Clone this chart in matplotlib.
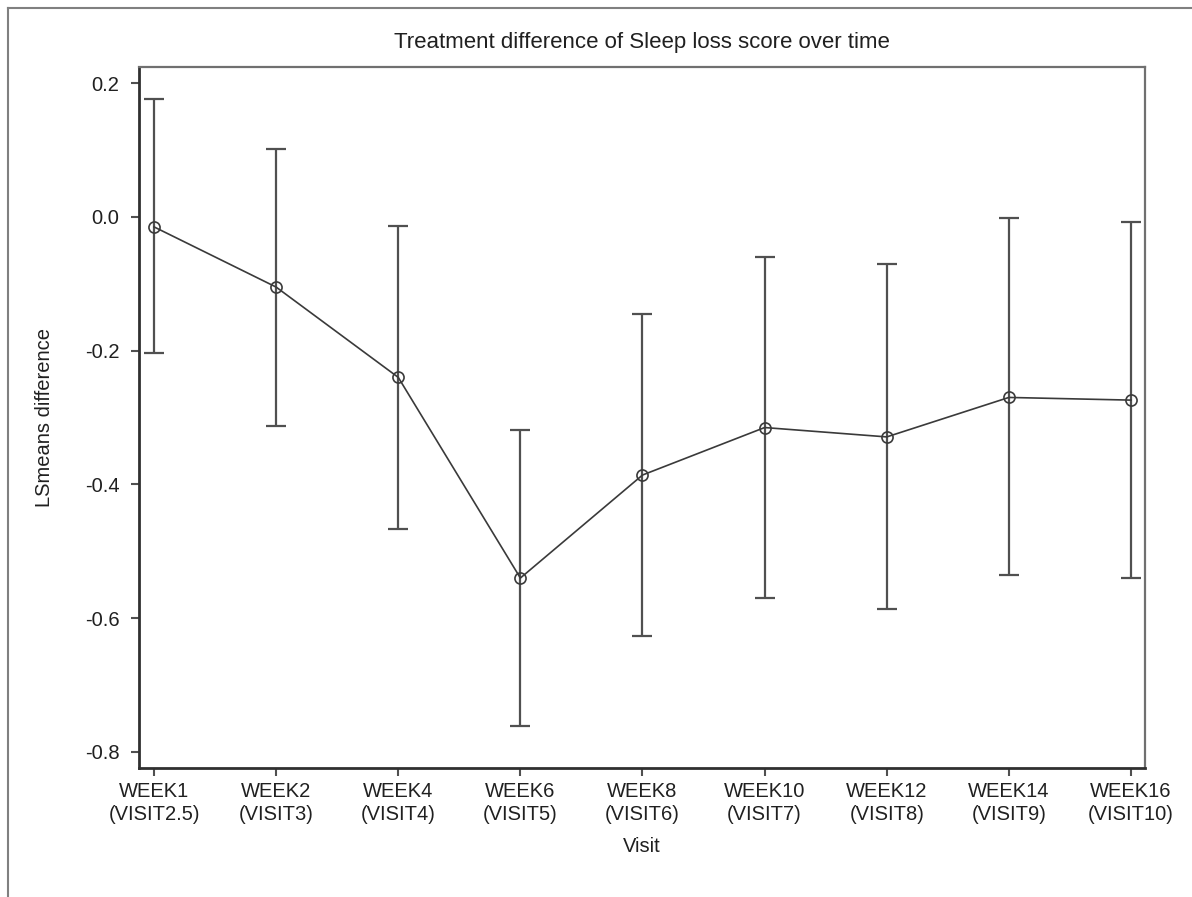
import matplotlib.pyplot as plt
from matplotlib.lines import Line2D
import numpy as np

plt.rcParams['font.family'] = ['Liberation Sans', 'DejaVu Sans']
plt.rcParams['axes.unicode_minus'] = False

visits = ['WEEK1\n(VISIT2.5)', 'WEEK2\n(VISIT3)', 'WEEK4\n(VISIT4)', 'WEEK6\n(VISIT5)',
          'WEEK8\n(VISIT6)', 'WEEK10\n(VISIT7)', 'WEEK12\n(VISIT8)', 'WEEK14\n(VISIT9)',
          'WEEK16\n(VISIT10)']
lsm_diff = [-0.015, -0.105, -0.240, -0.540, -0.386, -0.315, -0.329, -0.270, -0.274]
upper_cl = [0.176, 0.102, -0.013, -0.319, -0.146, -0.060, -0.071, -0.002, -0.008]
lower_cl = [-0.204, -0.312, -0.466, -0.761, -0.626, -0.570, -0.587, -0.536, -0.540]

x = np.arange(len(visits))
y = np.array(lsm_diff)
yerr = [y - np.array(lower_cl), np.array(upper_cl) - y]

fig = plt.figure(figsize=(11.92, 8.97), dpi=100)
ax = fig.add_axes([0.1166, 0.1438, 0.8440, 0.7815])

ax.errorbar(x, y, yerr=yerr, fmt='none', ecolor='#505050', elinewidth=1.6,
            capsize=7, capthick=1.6, zorder=2)
ax.plot(x, y, color='#3a3a3a', lw=1.2, marker='o', markersize=8,
        markerfacecolor='none', markeredgecolor='#3a3a3a', markeredgewidth=1.2, zorder=3)

ax.set_xlim(-0.123, 8.115)
ax.set_ylim(-0.824, 0.224)
ax.set_xticks(x)
ax.set_xticklabels(visits, fontsize=14.5, color='#202020', linespacing=1.3)
ax.set_yticks([0.2, 0.0, -0.2, -0.4, -0.6, -0.8])
ax.set_yticklabels(['0.2', '0.0', '-0.2', '-0.4', '-0.6', '-0.8'], fontsize=14.5, color='#202020')
ax.tick_params(direction='out', length=6, width=1.5, color='#505050')
ax.tick_params(axis='x', pad=4)
ax.tick_params(axis='y', pad=8)

for side in ['left', 'bottom']:
    ax.spines[side].set_linewidth(2.0)
    ax.spines[side].set_color('#303030')
for side in ['top', 'right']:
    ax.spines[side].set_linewidth(1.6)
    ax.spines[side].set_color('#707070')

ax.set_title('Treatment difference of Sleep loss score over time', fontsize=16, pad=14, color='#202020')
ax.set_xlabel('Visit', fontsize=14.5, labelpad=9, color='#202020')
ax.set_ylabel('LSmeans difference', fontsize=14.5, labelpad=22, color='#202020')

# outer frame lines on top and left edge
fig.add_artist(Line2D([8 / 1192, 1], [1 - 8 / 897, 1 - 8 / 897], color='#808080', lw=1.5))
fig.add_artist(Line2D([8 / 1192, 8 / 1192], [0, 1 - 8 / 897], color='#808080', lw=1.5))

fig.savefig('out.png', dpi=100)
